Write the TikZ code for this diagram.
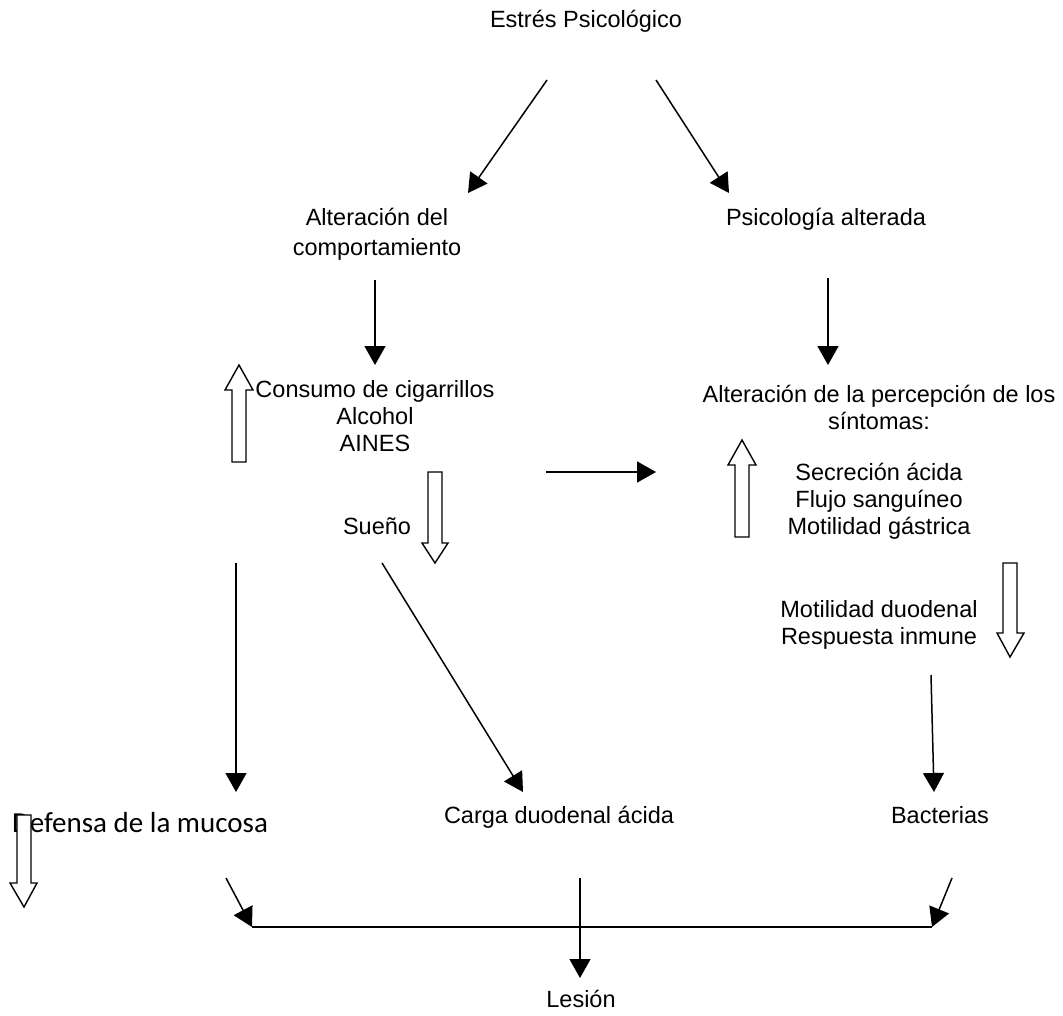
\documentclass[tikz,border=0pt]{standalone}
\usepackage{fontspec}
\setmainfont{Liberation Sans}
\newfontfamily\calibfont{Carlito}
\usetikzlibrary{arrows.meta}
\begin{document}
\begin{tikzpicture}[x=1pt,y=-1pt,
  lbl/.style={font=\fontsize{23.5}{27}\selectfont, inner sep=0pt, align=center},
  conn/.style={line width=1.5pt, -{Triangle[length=19pt,width=21pt]}},
  plain/.style={line width=1.5pt},
  hollow/.style={draw, line width=1.4pt, fill=white, line join=miter}]
\useasboundingbox (0,0) rectangle (1063,1015);
\fill[white] (0,0) rectangle (1063,1015);

% text nodes
\node[lbl, anchor=base] (estres) at (586,27) {Estrés Psicológico};
\node[lbl, anchor=north] (comport) at (377,205) {\rule{0pt}{20pt}Alteración del\\[3pt]comportamiento};
\node[lbl, anchor=base] (psico) at (826,225) {Psicología alterada};
\node[lbl, anchor=north] (consumo) at (375,377) {\rule{0pt}{20pt}Consumo de cigarrillos\\Alcohol\\AINES};
\node[lbl, anchor=north] (percep) at (879,382) {\rule{0pt}{20pt}Alteración de la percepción de los\\síntomas:};
\node[lbl, anchor=base] (sueno) at (377,534) {Sueño};
\node[lbl, anchor=north] (secre) at (879,460) {\rule{0pt}{20pt}Secreción ácida\\Flujo sanguíneo\\Motilidad gástrica};
\node[lbl, anchor=north] (motil) at (879,597) {\rule{0pt}{20pt}Motilidad duodenal\\Respuesta inmune};
\node[inner sep=0pt, anchor=base, font=\calibfont\fontsize{29}{34}\selectfont] (defensa) at (140,832) {Defensa de la mucosa};
\node[lbl, anchor=base] (carga) at (559,823) {Carga duodenal ácida};
\node[lbl, anchor=base] (bact) at (940,823) {Bacterias};
\node[lbl, anchor=base] (lesion) at (581,1007) {Lesión};

% connector end points
\coordinate (a1s) at (547,80);  \coordinate (a1e) at (468,193);
\coordinate (a2s) at (656,80);  \coordinate (a2e) at (729,193);
\coordinate (a3s) at (375,280); \coordinate (a3e) at (375,365);
\coordinate (a4s) at (828,278); \coordinate (a4e) at (828,365);
\coordinate (a5s) at (546,472); \coordinate (a5e) at (656,472);
\coordinate (a6s) at (236,563); \coordinate (a6e) at (236,792);
\coordinate (a7s) at (382,563); \coordinate (a7e) at (523,792);
\coordinate (a8s) at (931,675); \coordinate (a8e) at (934,792);
\coordinate (a9s) at (226,878); \coordinate (jl) at (252,927);
\coordinate (a10s) at (952,878); \coordinate (jr) at (932,927);
\coordinate (a11s) at (580,878); \coordinate (a11e) at (580,978);

% connectors
\draw[conn] (a1s) -- (a1e);
\draw[conn] (a2s) -- (a2e);
\draw[conn] (a3s) -- (a3e);
\draw[conn] (a4s) -- (a4e);
\draw[conn] (a5s) -- (a5e);
\draw[conn] (a6s) -- (a6e);
\draw[conn] (a7s) -- (a7e);
\draw[conn] (a8s) -- (a8e);
\draw[conn] (a9s) -- (jl);
\draw[conn] (a10s) -- (jr);
\draw[plain] (jl) -- (jr);
\draw[conn] (a11s) -- (a11e);

% hollow arrows
% left, up
\draw[hollow] (239,365) -- (253,390) -- (246,390) -- (246,462) -- (232,462) -- (232,390) -- (225,390) -- cycle;
% centre, down
\draw[hollow] (428,472) -- (442,472) -- (442,543) -- (448,543) -- (435,563) -- (422,543) -- (428,543) -- cycle;
% right, up
\draw[hollow] (742,440) -- (756,465) -- (749,465) -- (749,537) -- (735,537) -- (735,465) -- (728,465) -- cycle;
% right, down
\draw[hollow] (1003,563) -- (1017,563) -- (1017,633) -- (1024,633) -- (1010,657) -- (997,633) -- (1003,633) -- cycle;
% far left, down
\draw[hollow] (17,815) -- (31,815) -- (31,883) -- (37,883) -- (24,907) -- (10,883) -- (17,883) -- cycle;
\end{tikzpicture}
\end{document}
